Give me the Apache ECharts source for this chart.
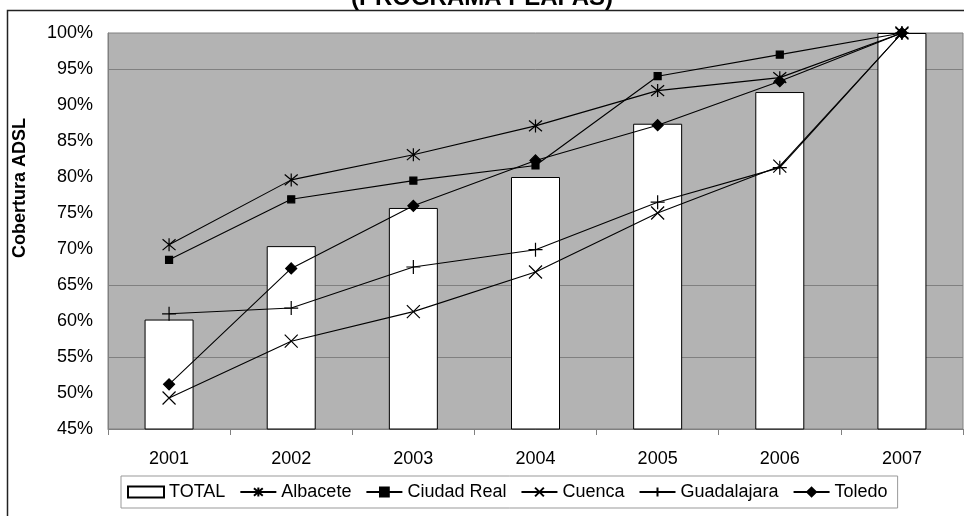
<!DOCTYPE html>
<html>
<head>
<meta charset="utf-8">
<title>Cobertura ADSL</title>
<script src="https://cdn.jsdelivr.net/npm/echarts@6/dist/echarts.min.js"></script>
<style>
	html, body { margin: 0; padding: 0; background: #fff; }
	#chart { width: 964px; height: 516px; }
</style>
</head>
<body>
<div id="chart"></div>
<script>
// datos
var years = ['2001', '2002', '2003', '2004', '2005', '2006', '2007'];
var total = [60.2, 70.4, 75.7, 80.0, 87.4, 91.8, 100];
var albacete = [70.6, 79.6, 83.1, 87.1, 92.0, 93.8, 100];
var ciudadReal = [68.5, 76.9, 79.5, 81.6, 94.0, 97.0, 100];
var cuenca = [49.3, 57.2, 61.3, 66.8, 75.0, 81.5, 100];
var guadalajara = [61.0, 61.8, 67.5, 69.9, 76.5, 81.3, 100];
var toledo = [51.2, 67.3, 76.0, 82.3, 87.2, 93.3, 100];
var gridValues = [55, 65, 95];

var FONT = '"Liberation Sans", Arial, sans-serif';

// simbolos de las series
var symAsterisk = 'path://M0,0L10,10M10,0L0,10M5,-1L5,11';
var symCross = 'path://M0,0L10,10M10,0L0,10';
var symPlus = 'path://M5,0L5,10M0,5L10,5';

function lineSerie(name, data, symbol, size) {
	return {
		name: name,
		type: 'line',
		data: data,
		symbol: symbol,
		symbolSize: size,
		z: 3,
		lineStyle: { color: '#000', width: 1.1 },
		itemStyle: { color: '#000', borderColor: '#000', borderWidth: 1.2 }
	};
}

var myChart = echarts.init(document.getElementById('chart'));
var option = {
	animation: false,
	textStyle: { fontFamily: FONT },
	title: {
		text: '(PROGRAMA PEAPAS)',
		left: 'center',
		top: -14,
		padding: 0,
		textStyle: { fontFamily: FONT, fontSize: 24, fontWeight: 'bold', color: '#000' }
	},
	graphic: [
		{
			type: 'rect',
			shape: { x: 7.5, y: 10.5, width: 1000, height: 1000 },
			style: { fill: 'none', stroke: '#222', lineWidth: 1.5 },
			silent: true
		},
		{
			type: 'text',
			x: 20,
			y: 188,
			rotation: Math.PI / 2,
			style: {
				text: 'Cobertura ADSL',
				fontFamily: FONT,
				fontSize: 18,
				fontWeight: 'bold',
				fill: '#000',
				align: 'center',
				verticalAlign: 'middle'
			}
		}
	],
	grid: {
		left: 108,
		right: 1,
		top: 33,
		bottom: 87,
		show: true,
		backgroundColor: '#b3b3b3',
		borderColor: '#808080',
		borderWidth: 1
	},
	legend: {
		left: 121,
		top: 476,
		padding: [7, 10, 7, 6],
		itemGap: 14,
		itemWidth: 36,
		itemHeight: 11,
		borderColor: '#999',
		borderWidth: 1,
		backgroundColor: '#fff',
		textStyle: { fontFamily: FONT, fontSize: 18, color: '#000' },
		data: [
			{ name: 'TOTAL', icon: 'rect' },
			'Albacete', 'Ciudad Real', 'Cuenca', 'Guadalajara', 'Toledo'
		]
	},
	xAxis: {
		type: 'category',
		data: years,
		axisLine: { lineStyle: { color: '#808080' } },
		axisTick: { show: true, length: 6, lineStyle: { color: '#808080' } },
		axisLabel: { fontFamily: FONT, fontSize: 18, color: '#000', margin: 21 }
	},
	yAxis: {
		type: 'value',
		min: 45,
		max: 100,
		interval: 5,
		axisLine: { show: true, lineStyle: { color: '#808080' } },
		axisTick: { show: false },
		splitLine: { show: false },
		axisLabel: { fontFamily: FONT, fontSize: 18, color: '#000', margin: 15, formatter: '{value}%' }
	},
	series: [
		{
			name: 'TOTAL',
			type: 'bar',
			data: total,
			barWidth: 49,
			itemStyle: { color: '#fff', borderColor: '#000', borderWidth: 1 },
			markLine: {
				silent: true,
				z: 1,
				symbol: 'none',
				label: { show: false },
				lineStyle: { color: '#808080', type: 'solid', width: 1 },
				data: gridValues.map(function (v) { return { yAxis: v }; })
			}
		},
		lineSerie('Albacete', albacete, symAsterisk, 13),
		lineSerie('Ciudad Real', ciudadReal, 'rect', 7),
		lineSerie('Cuenca', cuenca, symCross, 13),
		lineSerie('Guadalajara', guadalajara, symPlus, 14),
		lineSerie('Toledo', toledo, 'diamond', 11)
	]
};
myChart.setOption(option);
</script>
</body>
</html>
